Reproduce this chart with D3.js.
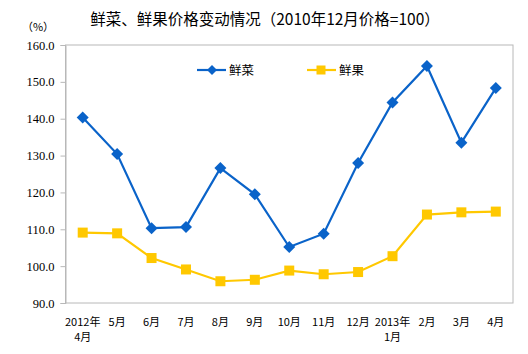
<!DOCTYPE html>
<html><head><meta charset="utf-8">
<script src="https://cdn.jsdelivr.net/npm/d3@7"></script>
<style>body{margin:0;background:#fff}svg{display:block}.yl text{font-family:"Liberation Serif","DejaVu Serif",serif !important}</style>
</head><body>
<svg id="c" width="528" height="354"></svg>
<script>
const categories = ["2012年\n4月","5月","6月","7月","8月","9月","10月","11月","12月","2013年\n1月","2月","3月","4月"];
const vegValues = [140.3,130.4,110.3,110.6,126.6,119.5,105.2,108.8,128.0,144.4,154.3,133.5,148.3];
const fruitValues = [109.1,108.9,102.2,99.1,95.9,96.3,98.8,97.8,98.4,102.7,114.0,114.6,114.8];
const yTicks = [90,100,110,120,130,140,150,160];
const seriesNames = ["鲜菜","鲜果"];
const title = "鲜菜、鲜果价格变动情况（2010年12月价格=100）";

const svg = d3.select("#c");
const L=65.5, R=513, T=45, B=303;
const x = d3.scaleBand().domain(categories).range([L,R]);
const y = d3.scaleLinear().domain([90,160]).range([B,T]);
const cx = d => x(d)+x.bandwidth()/2;
const cjk = "'Noto Sans CJK SC','Liberation Serif',serif";

svg.append("text").attr("x",265).attr("y",25).attr("text-anchor","middle")
  .attr("font-family",cjk).attr("font-size",15.5).attr("fill","#000").text(title);
svg.append("text").attr("x",38).attr("y",31).attr("text-anchor","middle")
  .attr("font-family",cjk).attr("font-size",11).attr("fill","#000").text("（%）");

// frame
svg.append("rect").attr("x",L).attr("y",T).attr("width",R-L).attr("height",B-T)
  .attr("fill","none").attr("stroke","#b8b8b8").attr("stroke-width",1);

const yAxis = svg.append("g").attr("class","yl").attr("transform",`translate(${L},0)`)
  .call(d3.axisLeft(y).tickValues(yTicks).tickFormat(d3.format(".1f")).tickSize(5).tickPadding(6));
yAxis.attr("font-family",null);
yAxis.select(".domain").attr("stroke","#b8b8b8");
yAxis.selectAll(".tick line").attr("stroke","#b8b8b8");
yAxis.selectAll("text").attr("font-size",12.5).attr("fill","#000");

// x labels
const xl = svg.append("g");
categories.forEach(c=>{
  const parts = c.split("\n");
  const t = xl.append("text").attr("x",cx(c)).attr("y",326).attr("text-anchor","middle")
    .attr("font-family",cjk).attr("font-size",11).attr("fill","#000");
  parts.forEach((p,i)=>t.append("tspan").attr("x",cx(c)).attr("dy",i?15:0).text(p));
});

const line = d3.line().x((d,i)=>cx(categories[i])).y(d=>y(d));
const blue="#0a63c9", yellow="#ffc800";
svg.append("path").attr("d",line(fruitValues)).attr("fill","none").attr("stroke",yellow).attr("stroke-width",2.2);
svg.append("path").attr("d",line(vegValues)).attr("fill","none").attr("stroke",blue).attr("stroke-width",2.2);

const sq=10, dm=6;
svg.selectAll(".fm").data(fruitValues).enter().append("rect")
  .attr("x",(d,i)=>cx(categories[i])-sq/2).attr("y",d=>y(d)-sq/2).attr("width",sq).attr("height",sq).attr("fill",yellow);
const diamond = (px,py)=>`M${px},${py-dm}L${px+dm},${py}L${px},${py+dm}L${px-dm},${py}Z`;
svg.selectAll(".vm").data(vegValues).enter().append("path")
  .attr("d",(d,i)=>diamond(cx(categories[i]),y(d))).attr("fill",blue);

// legend
const lg = svg.append("g");
lg.append("line").attr("x1",197).attr("x2",226).attr("y1",70).attr("y2",70).attr("stroke",blue).attr("stroke-width",2.2);
lg.append("path").attr("d",`M212,65L217,70L212,75L207,70Z`).attr("fill",blue);
lg.append("text").attr("x",229).attr("y",75).attr("font-family",cjk).attr("font-size",12.5).text(seriesNames[0]);
lg.append("line").attr("x1",307).attr("x2",336).attr("y1",70).attr("y2",70).attr("stroke",yellow).attr("stroke-width",2.2);
lg.append("rect").attr("x",316.5).attr("y",65.5).attr("width",9).attr("height",9).attr("fill",yellow);
lg.append("text").attr("x",339).attr("y",75).attr("font-family",cjk).attr("font-size",12.5).text(seriesNames[1]);
</script>
</body></html>
